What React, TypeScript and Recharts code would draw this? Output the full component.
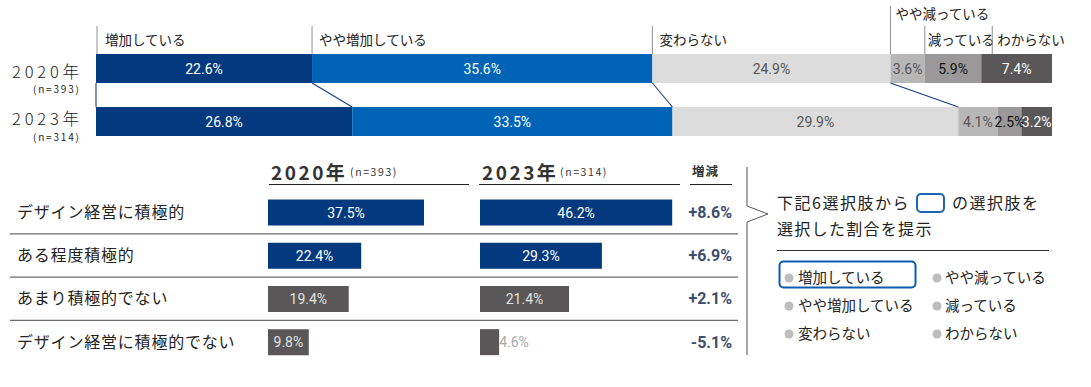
import React from 'react';
import { BarChart, Bar, XAxis, YAxis, LabelList, Cell } from 'recharts';

// ---------- data ----------
const years = ['2020年', '2023年'];
const sampleSizes = ['(n=393)', '(n=314)'];
const responseCategories = ['増加している', 'やや増加している', '変わらない', 'やや減っている', '減っている', 'わからない'];
const values2020 = [22.6, 35.6, 24.9, 3.6, 5.9, 7.4];
const values2023 = [26.8, 33.5, 29.9, 4.1, 2.5, 3.2];

const attitudeLabels = ['デザイン経営に積極的', 'ある程度積極的', 'あまり積極的でない', 'デザイン経営に積極的でない'];
const attitude2020 = [37.5, 22.4, 19.4, 9.8];
const attitude2023 = [46.2, 29.3, 21.4, 4.6];
const attitudeDiff = ['+8.6%', '+6.9%', '+2.1%', '-5.1%'];

const legendCol1 = ['増加している', 'やや増加している', '変わらない'];
const legendCol2 = ['やや減っている', '減っている', 'わからない'];

// ---------- styles ----------
const JP = "'Noto Sans CJK JP', 'Noto Sans', sans-serif";
const NUM = "Roboto, 'Noto Sans', sans-serif";
const NAVY = '#033a7f';
const topColors = [NAVY, '#0064b6', '#dcdcdc', '#b8b7b7', '#9a9898', '#595757'];
const topLabelColors = ['#ffffff', '#ffffff', '#555555', '#555555', '#111111', '#ffffff'];
const labelLineLift = [28, 28, 28, 48, 28, 28];
const labelTextLift = [9, 9, 9, 35, 9, 9];
const labelLineDx = [1, 0, 0, 0, 0, 11];
const labelTextDx = [8, 7, 7, 5, 3, 5];
const TOP_GAP = 12;
const attitudeColors = [NAVY, NAVY, '#595757', '#595757'];
const attitudeLabelColors = ['#ffffff', '#ffffff', '#e2e2e2', '#e2e2e2'];
const ROW_TOP = 190.7;
const ROW_BOTTOM = 23.5;
const CH_H = 387;
const ROW_BAND = (CH_H - ROW_TOP - ROW_BOTTOM) / attitudeLabels.length;
const ROW_GAP = (ROW_BAND - 25.5) / 2;

// ---------- derived table for the library ----------
const cumulative = (arr: number[]) => arr.map((_, i) => arr.slice(0, i).reduce((a, b) => a + b, 0));
const cum2020 = cumulative(values2020);
const cum2023 = cumulative(values2023);

const topData = years.map((year, r) => {
  const row: any = { year };
  const vals = r === 0 ? values2020 : values2023;
  vals.forEach((v, k) => (row[`s${k}`] = v));
  return row;
});

const attData = attitudeLabels.map((label, i) => ({
  label,
  v2020: attitude2020[i],
  v2023: attitude2023[i],
  diff: attitudeDiff[i],
}));

// ---------- renderers ----------
const makeTopShape = (k: number) => (props: any) => {
  const { x, y, width, height, payload } = props;
  const els: any[] = [<rect key="r" x={x} y={y} width={width} height={height} fill={topColors[k]} />];
  if (payload && payload.year === years[0]) {
    const lx = x + labelLineDx[k];
    els.push(<line key="l" x1={lx} x2={lx} y1={y - labelLineLift[k]} y2={y} stroke="#8f8f8f" strokeWidth={1} />);
    els.push(
      <text key="t" x={lx + labelTextDx[k]} y={y - labelTextLift[k]} fontSize={13.5} fontFamily={JP} fill="#222">
        {responseCategories[k]}
      </text>
    );
  }
  if (payload && payload.year === years[1] && k < 4) {
    const ppu = width / values2023[k];
    const x0 = x + (cum2020[k] - cum2023[k]) * ppu;
    els.push(<line key="c" x1={x0} y1={y - 2 * TOP_GAP} x2={x} y2={y} stroke="#0d3f88" strokeWidth={1.1} />);
  }
  return <g>{els}</g>;
};

const makeTopLabel = (k: number) => (p: any) => {
  const { x, y, width, height, value } = p;
  return (
    <text x={x + width / 2} y={y + height / 2} dy="0.36em" textAnchor="middle" fill={topLabelColors[k]} fontSize={14} fontFamily={NUM}>
      {`${Number(value).toFixed(1)}%`}
    </text>
  );
};

const tableLabel = (p: any) => {
  const { x, y, width, height, value, index } = p;
  const inside = width > 30;
  return (
    <text
      x={inside ? x + width / 2 : x + width}
      y={y + height / 2}
      dy="0.36em"
      textAnchor={inside ? 'middle' : 'start'}
      fill={inside ? attitudeLabelColors[index] : '#a9a9a9'}
      fontSize={14}
      fontFamily={NUM}
    >
      {`${Number(value).toFixed(1)}%`}
    </text>
  );
};

const RowTick = (props: any) => {
  const { y, index, payload } = props;
  return (
    <g>
      <text x={17} y={y} dy="0.36em" fontSize={16} fontFamily={JP} fill="#222" letterSpacing={0.8}>
        {payload.value}
      </text>
      {index < attitudeLabels.length - 1 && (
        <line x1={10} x2={738} y1={y + ROW_BAND / 2} y2={y + ROW_BAND / 2} stroke="#6b6b6b" strokeWidth={1.3} />
      )}
    </g>
  );
};

const DiffTick = (props: any) => {
  const { y, index } = props;
  return (
    <text x={732} y={y} dy="0.36em" textAnchor="end" fontSize={16} fontWeight={700} fontFamily={NUM} fill="#3e4e6e">
      {attitudeDiff[index]}
    </text>
  );
};

export default function App() {
  return (
    <div style={{ position: 'absolute', left: 0, top: 0, width: 1091, height: 387, background: '#fff', overflow: 'hidden' }}>
      {/* top stacked bars */}
      <div style={{ position: 'absolute', left: 0, top: 0 }}>
        <BarChart
          layout="vertical"
          width={1091}
          height={160}
          data={topData}
          margin={{ top: 42, right: 39, bottom: 12, left: 96 }}
          barCategoryGap={TOP_GAP}
        >
          <XAxis type="number" domain={[0, 100]} hide />
          <YAxis type="category" dataKey="year" hide />
          {responseCategories.map((c, k) => (
            <Bar key={c} dataKey={`s${k}`} stackId="a" isAnimationActive={false} shape={makeTopShape(k)}>
              <LabelList dataKey={`s${k}`} content={makeTopLabel(k)} />
            </Bar>
          ))}
        </BarChart>
      </div>

      {/* 2020 column */}
      <div style={{ position: 'absolute', left: 0, top: 0 }}>
        <BarChart
          layout="vertical"
          width={760}
          height={CH_H}
          data={attData}
          margin={{ top: ROW_TOP, right: 284, bottom: ROW_BOTTOM, left: 0 }}
          barCategoryGap={ROW_GAP}
        >
          <XAxis type="number" domain={[0, 50]} hide />
          <YAxis type="category" dataKey="label" width={268} axisLine={false} tickLine={false} interval={0} tick={<RowTick />} />
          <Bar dataKey="v2020" isAnimationActive={false}>
            {attData.map((d, i) => (
              <Cell key={d.label} fill={attitudeColors[i]} />
            ))}
            <LabelList dataKey="v2020" content={tableLabel} />
          </Bar>
        </BarChart>
      </div>

      {/* 2023 column */}
      <div style={{ position: 'absolute', left: 0, top: 0 }}>
        <BarChart
          layout="vertical"
          width={760}
          height={CH_H}
          data={attData}
          margin={{ top: ROW_TOP, right: 0, bottom: ROW_BOTTOM, left: 480 }}
          barCategoryGap={ROW_GAP}
        >
          <XAxis type="number" domain={[0, 50]} hide />
          <YAxis type="category" dataKey="label" orientation="right" width={72} axisLine={false} tickLine={false} interval={0} tick={<DiffTick />} />
          <Bar dataKey="v2023" isAnimationActive={false}>
            {attData.map((d, i) => (
              <Cell key={d.label} fill={attitudeColors[i]} />
            ))}
            <LabelList dataKey="v2023" content={tableLabel} />
          </Bar>
        </BarChart>
      </div>

      {/* static texts */}
      <svg width={1091} height={387} style={{ position: 'absolute', left: 0, top: 0, pointerEvents: 'none' }}>
        {/* top-left year labels */}
        <text x={12} y={77.5} fontSize={16.5} fontWeight={300} fontFamily={JP} fill="#222" letterSpacing={3.8}>{years[0]}</text>
        <text x={33} y={92.5} fontSize={10} fontFamily={JP} fill="#222" letterSpacing={1.8}>{sampleSizes[0]}</text>
        <text x={12} y={125} fontSize={16.5} fontWeight={300} fontFamily={JP} fill="#222" letterSpacing={3.8}>{years[1]}</text>
        <text x={33} y={140.5} fontSize={10} fontFamily={JP} fill="#222" letterSpacing={1.8}>{sampleSizes[1]}</text>

        {/* table headers */}
        <text x={271} y={180} fontSize={19} fontWeight={700} fontFamily={JP} fill="#333" letterSpacing={2.5}>{years[0]}</text>
        <text x={350} y={176} fontSize={10.5} fontFamily={JP} fill="#333" letterSpacing={1.6}>{sampleSizes[0]}</text>
        <line x1={269} x2={469} y1={184.5} y2={184.5} stroke="#222" strokeWidth={1.2} />
        <text x={482} y={180} fontSize={19} fontWeight={700} fontFamily={JP} fill="#333" letterSpacing={2.5}>{years[1]}</text>
        <text x={560} y={176} fontSize={10.5} fontFamily={JP} fill="#333" letterSpacing={1.6}>{sampleSizes[1]}</text>
        <line x1={479} x2={680} y1={184.5} y2={184.5} stroke="#222" strokeWidth={1.2} />
        <text x={692} y={176} fontSize={12.5} fontWeight={700} fontFamily={JP} fill="#333" letterSpacing={1}>増減</text>
        <line x1={690} x2={732} y1={184.5} y2={184.5} stroke="#222" strokeWidth={1.2} />

        {/* bracket */}
        <polyline points="747,167 747,206 768,214 747,222 747,355" fill="none" stroke="#555" strokeWidth={1} />

        {/* legend heading */}
        <text x={777} y={209} fontSize={16} fontFamily={JP} fill="#222" letterSpacing={1.5}>下記6選択肢から</text>
        <rect x={917} y={194} width={27} height={18} rx={4} fill="none" stroke="#1a66b5" strokeWidth={2} />
        <text x={952} y={209} fontSize={16} fontFamily={JP} fill="#222" letterSpacing={1.5}>の選択肢を</text>
        <text x={777} y={235} fontSize={16} fontFamily={JP} fill="#222" letterSpacing={1.3}>選択した割合を提示</text>
        <line x1={777} x2={1049} y1={250.5} y2={250.5} stroke="#333" strokeWidth={1} />

        {/* legend items */}
        <rect x={779.5} y={261.5} width={136} height={26} rx={4} fill="none" stroke="#0a5cae" strokeWidth={2} />
        {legendCol1.map((t, i) => (
          <g key={t}>
            <circle cx={789} cy={278 + i * 28} r={4.5} fill="#bdbdbd" />
            <text x={798} y={283 + i * 28} fontSize={14.5} fontFamily={JP} fill="#222">{t}</text>
          </g>
        ))}
        {legendCol2.map((t, i) => (
          <g key={t}>
            <circle cx={937} cy={278 + i * 28} r={4.5} fill="#bdbdbd" />
            <text x={945} y={283 + i * 28} fontSize={14.5} fontFamily={JP} fill="#222">{t}</text>
          </g>
        ))}
      </svg>
    </div>
  );
}
